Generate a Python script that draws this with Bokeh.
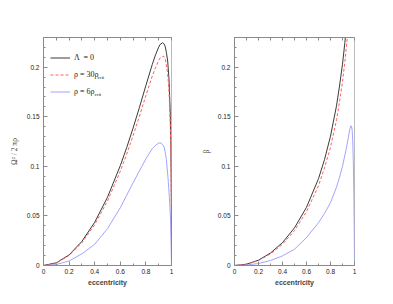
from bokeh.plotting import figure
from bokeh.layouts import row
from bokeh.models import (Range1d, LinearAxis, FixedTicker, PrintfTickFormatter,
                          CustomJSTickFormatter, Legend, LegendItem, Label)
from bokeh.embed import file_html
from bokeh.resources import INLINE

# ---------------- data ----------------
# left panel: Omega^2 / 2 pi rho versus eccentricity
ecc_lam0_l = [0, 0.1, 0.2, 0.3, 0.4, 0.5, 0.6, 0.65, 0.7, 0.75, 0.8, 0.85, 0.875, 0.9, 0.91,
              0.93, 0.94, 0.95, 0.96, 0.97, 0.98, 0.99, 0.995, 0.999, 1.0]
omega_lam0 = [0, 0.0027, 0.0107, 0.0243, 0.0436, 0.0689, 0.1007, 0.1189, 0.1387, 0.1597,
              0.1816, 0.2029, 0.2125, 0.2203, 0.2228, 0.2247, 0.2238, 0.2213, 0.2150, 0.2063,
              0.1890, 0.1552, 0.1219, 0.0627, 0]
ecc_rho30_l = [0, 0.1, 0.2, 0.3, 0.4, 0.5, 0.6, 0.65, 0.7, 0.75, 0.8, 0.85, 0.875, 0.9, 0.91,
               0.93, 0.94, 0.95, 0.96, 0.97, 0.98, 0.99, 0.995, 0.999, 1.0]
omega_rho30 = [0, 0.0025, 0.0101, 0.0230, 0.0412, 0.0651, 0.0951, 0.1123, 0.1310, 0.1508,
               0.1714, 0.1912, 0.1995, 0.2070, 0.2092, 0.2108, 0.2110, 0.2090, 0.2020, 0.1935,
               0.1772, 0.1455, 0.1142, 0.0588, 0]
ecc_rho6_l = [0, 0.1, 0.2, 0.3, 0.4, 0.5, 0.6, 0.7, 0.8, 0.85, 0.875, 0.9, 0.91, 0.92, 0.94,
              0.95, 0.96, 0.975, 0.985, 0.993, 0.998, 1.0]
omega_rho6 = [0, 0.0010, 0.0046, 0.0118, 0.0214, 0.0372, 0.0583, 0.0835, 0.1076, 0.1180,
              0.1212, 0.1235, 0.1237, 0.1233, 0.1205, 0.1150, 0.1070, 0.0850, 0.0650, 0.0450,
              0.0200, 0]

# right panel: beta versus eccentricity
ecc_lam0_r = [0, 0.1, 0.2, 0.3, 0.4, 0.5, 0.6, 0.7, 0.75, 0.8, 0.85, 0.875, 0.9, 0.92, 0.94]
beta_lam0 = [0, 0.0013, 0.0054, 0.0126, 0.0231, 0.0380, 0.0587, 0.0876, 0.1068, 0.1305,
             0.1611, 0.1810, 0.2031, 0.2251, 0.2523]
ecc_rho30_r = [0, 0.1, 0.2, 0.3, 0.4, 0.5, 0.6, 0.7, 0.75, 0.8, 0.85, 0.875, 0.9, 0.92, 0.94,
               0.95]
beta_rho30 = [0, 0.0012, 0.0050, 0.0117, 0.0214, 0.0351, 0.0543, 0.0805, 0.0985, 0.1192,
              0.1470, 0.1650, 0.1855, 0.2055, 0.2300, 0.2450]
ecc_rho6_r = [0, 0.1, 0.2, 0.3, 0.4, 0.5, 0.6, 0.7, 0.75, 0.8, 0.85, 0.875, 0.9, 0.93, 0.94,
              0.95, 0.96, 0.97, 0.975, 0.98, 0.985, 0.99, 0.995, 0.998, 1.0]
beta_rho6 = [0, 0.0005, 0.0020, 0.0050, 0.0097, 0.0164, 0.0282, 0.0432, 0.0525, 0.0634,
             0.0790, 0.0890, 0.1002, 0.1170, 0.1235, 0.1300, 0.1370, 0.1410, 0.1405, 0.1370,
             0.1270, 0.1050, 0.0700, 0.0350, 0]

x_ticks = [0, 0.2, 0.4, 0.6, 0.8, 1.0]
x_minor = [0.1 * i for i in range(11)]
y_ticks = [0, 0.05, 0.1, 0.15, 0.2]
y_minor = [0.01 * i for i in range(24)]

legend_labels = ["Λ  = 0", "ρ = 30ρ", "ρ = 6ρ"]

BLACK = "#3a3a3a"
RED = "#ff6060"
BLUE = "#8c8cff"
AX = "#8a8a8a"


def make_panel(width, left, right, ylabel, label_standoff):
    p = figure(width=width, height=288, x_range=Range1d(0, 1), y_range=Range1d(0, 0.23),
               min_border_left=left, min_border_right=right, min_border_top=37,
               min_border_bottom=22, output_backend="svg", toolbar_location=None,
               background_fill_color="white", border_fill_color="white")
    p.grid.visible = False
    p.outline_line_color = "#bbbbbb"
    p.outline_line_width = 1
    for ax in (p.xaxis[0], p.yaxis[0]):
        ax.axis_line_color = AX
        ax.major_tick_line_color = AX
        ax.minor_tick_line_color = AX
        ax.major_tick_in = 4
        ax.major_tick_out = 0
        ax.minor_tick_in = 2
        ax.minor_tick_out = 0
        ax.major_label_text_font = "Liberation Sans"
        ax.major_label_text_font_size = "6.5px"
        ax.major_label_text_color = "#222222"
        ax.formatter = PrintfTickFormatter(format="%g")
    p.xaxis.ticker = FixedTicker(ticks=x_ticks, minor_ticks=x_minor)
    p.yaxis.ticker = FixedTicker(ticks=y_ticks, minor_ticks=y_minor)
    p.xaxis.major_label_standoff = 3
    p.yaxis.major_label_standoff = 4
    p.xaxis.axis_label = "eccentricity"
    p.xaxis.axis_label_text_font = "Liberation Sans"
    p.xaxis.axis_label_text_font_style = "bold"
    p.xaxis.axis_label_text_font_size = "7px"
    p.xaxis.axis_label_standoff = 2
    p.yaxis.axis_label = ylabel
    p.yaxis.axis_label_text_font = "Liberation Serif"
    p.yaxis.axis_label_text_font_style = "normal"
    p.yaxis.axis_label_text_font_size = "7.5px"
    p.yaxis.axis_label_standoff = label_standoff
    top = LinearAxis(ticker=FixedTicker(ticks=x_minor, minor_ticks=[]),
                     formatter=CustomJSTickFormatter(code="return ''"),
                     axis_line_color=AX, major_tick_line_color=AX,
                     major_tick_in=3, major_tick_out=0, major_label_standoff=0)
    p.add_layout(top, "above")
    return p


p1 = make_panel(198, 43, 27, "Ω² / 2 πρ", 5)
r1 = p1.line(ecc_lam0_l, omega_lam0, line_color=BLACK, line_width=1)
r2 = p1.line(ecc_rho30_l, omega_rho30, line_color=RED, line_width=1, line_dash="3 2")
r3 = p1.line(ecc_rho6_l, omega_rho6, line_color=BLUE, line_width=0.8)

legend = Legend(items=[LegendItem(label=legend_labels[0], renderers=[r1]),
                       LegendItem(label=legend_labels[1], renderers=[r2]),
                       LegendItem(label=legend_labels[2], renderers=[r3])],
                location=(7, 165), border_line_color=None, background_fill_alpha=0,
                padding=0, margin=0, spacing=0, glyph_width=20, glyph_height=17,
                label_height=17, label_standoff=4,
                label_text_font="Liberation Serif", label_text_font_size="8px",
                label_text_color="#222222")
p1.add_layout(legend)
for xs, ys in ((54, 186), (51, 169)):
    p1.add_layout(Label(x=xs, y=ys, x_units="screen", y_units="screen", text="crit",
                        text_font="Liberation Serif", text_font_size="5px",
                        text_color="#222222"))

p2 = make_panel(187, 28, 31, "β", 4)
p2.line(ecc_lam0_r, beta_lam0, line_color=BLACK, line_width=1)
p2.line(ecc_rho30_r, beta_rho30, line_color=RED, line_width=1, line_dash="3 2")
p2.line(ecc_rho6_r, beta_rho6, line_color=BLUE, line_width=0.8)

layout = row(p1, p2)
open("out.html", "w").write(file_html(layout, INLINE))
